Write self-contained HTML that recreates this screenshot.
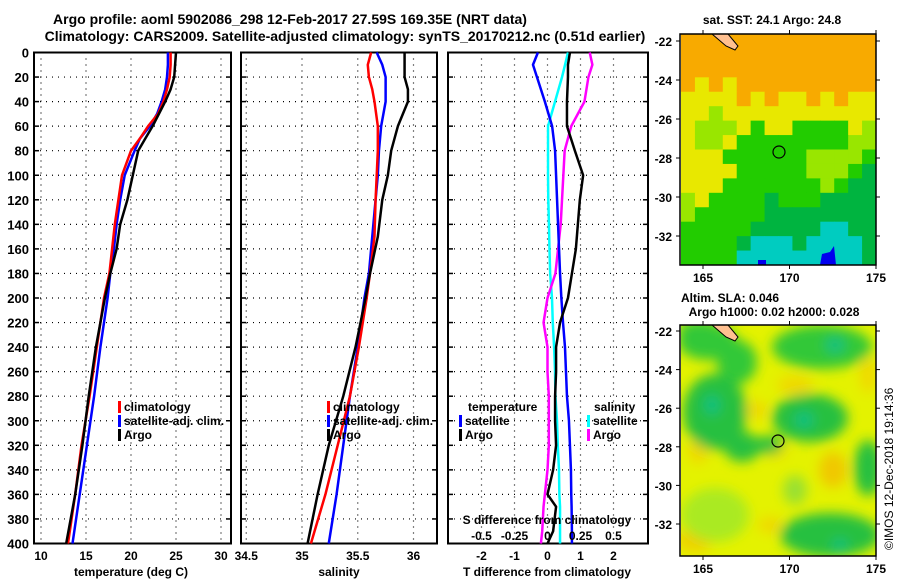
<!DOCTYPE html>
<html><head><meta charset="utf-8">
<style>
body{margin:0;background:#fff;}
svg{display:block;font-family:"Liberation Sans",sans-serif;font-weight:bold;}
</style></head>
<body>
<svg id="c" width="900" height="580" viewBox="0 0 900 580" xmlns="http://www.w3.org/2000/svg">
<defs>
<filter id="bl" x="-50%" y="-50%" width="200%" height="200%"><feGaussianBlur stdDeviation="6"/></filter>
<clipPath id="clipTop"><rect x="681" y="34" width="195" height="231"/></clipPath>
<clipPath id="clipBot"><rect x="681" y="325" width="195" height="231"/></clipPath>
</defs>
<text x="290" y="24" font-size="14" text-anchor="middle">Argo profile: aoml 5902086_298 12-Feb-2017 27.59S 169.35E (NRT data)</text>
<text x="345" y="41" font-size="14" text-anchor="middle">Climatology: CARS2009. Satellite-adjusted climatology: synTS_20170212.nc (0.51d earlier)</text>
<g id="plots"></g>
<g id="maps"></g>
<text transform="translate(893,550) rotate(-90)" font-size="12" font-weight="normal">©IMOS 12-Dec-2018 19:14:36</text>
</svg>
<script>
// ---------- profile data ----------
const tDepth = [0,10,20,30,40,50,60,70,80,100,120,140,160,180,200,240,280,320,360,400];
const tClim  = [24.4,24.4,24.3,24.0,23.6,23.0,21.9,21.0,20.0,19.0,18.6,18.2,17.9,17.6,17.0,16.2,15.4,14.5,13.8,13.0];
const tSat   = [24.1,24.1,24.0,23.8,23.4,22.9,22.1,21.0,20.4,19.3,18.8,18.4,18.1,17.7,17.4,16.6,15.9,15.1,14.3,13.5];
const tArgo  = [25.0,24.9,24.8,24.4,23.8,23.1,22.4,21.6,20.8,20.2,19.6,18.8,18.4,17.7,17.1,16.1,15.3,14.6,13.8,12.8];
const sDepth = [0,10,20,30,40,60,80,100,120,150,180,200,240,280,320,360,400];
const sClim  = [35.62,35.59,35.60,35.63,35.65,35.68,35.68,35.67,35.66,35.65,35.61,35.58,35.51,35.43,35.32,35.21,35.08];
const sSat   = [35.67,35.72,35.75,35.75,35.75,35.71,35.69,35.68,35.66,35.63,35.60,35.56,35.50,35.43,35.37,35.31,35.24];
const sArgo  = [35.92,35.92,35.92,35.95,35.95,35.86,35.80,35.77,35.72,35.68,35.61,35.57,35.48,35.37,35.24,35.14,35.05];
const dDepth = [0,10,20,40,60,80,100,120,140,160,180,200,220,240,260,280,300,320,340,360,370,390,400];
const dTSat  = [-0.29,-0.44,-0.32,-0.08,0.14,0.23,0.26,0.29,0.32,0.35,0.38,0.42,0.47,0.53,0.56,0.59,0.65,0.68,0.71,0.72,0.73,0.74,0.74];
const dTArgo = [0.68,0.62,0.62,0.59,0.59,0.83,1.08,0.98,0.92,0.86,0.74,0.62,0.38,0.26,0.26,0.23,0.23,0.26,0.17,0.0,0.26,0.17,0.0];
const dSSat  = [0.155,0.133,0.110,0.057,0.004,0.004,0.004,0.006,0.011,0.015,0.02,0.034,0.04,0.05,0.057,0.06,0.072,0.078,0.087,0.09,0.095,0.095,0.095];
const dSArgo = [0.32,0.34,0.31,0.28,0.18,0.13,0.12,0.11,0.10,0.08,0.06,0.0,-0.03,0.0,0.0,0.01,0.01,0.01,0.0,-0.02,-0.03,-0.04,-0.05];
const depthTicks = [0,20,40,60,80,100,120,140,160,180,200,220,240,260,280,300,320,340,360,380,400];
const tTicks = [10,15,20,25,30];
const sTicks = [34.5,35,35.5,36];
const dtTicks = [-2,-1,0,1,2];
const dsTicks = [-0.5,-0.25,0,0.25,0.5];
const latTicks = [-22,-24,-26,-28,-30,-32];
const lonTicks = [165,170,175];

const NS="http://www.w3.org/2000/svg";
const G=document.getElementById('plots');
const M=document.getElementById('maps');
function el(tag,attrs,parent){const e=document.createElementNS(NS,tag);for(const k in attrs)e.setAttribute(k,attrs[k]);(parent||G).appendChild(e);return e;}
function txt(x,y,s,anchor,size,parent){const t=el('text',{x:x,y:y,'font-size':size||12,'text-anchor':anchor||'middle'},parent);t.textContent=s;return t;}

const Y0=52.5, Y1=543.5;
const yD = d => Y0 + d*(Y1-Y0)/400;
const xT = v => 41 + (v-10)*9;
const xS = v => 302 + (v-35)*111.5;
const xDT = v => 547.5 + v*33;
const xDS = v => 547.5 + v*132;

function panel(x0,x1,name,gridX){
  const g=el('g',{});
  
  
  gridX.forEach(x=>{el('line',{x1:x,x2:x,y1:Y0,y2:Y1,stroke:'#000','stroke-width':1.2,'stroke-dasharray':'1 5'},g);});
  depthTicks.forEach(d=>{
    const y=yD(d);
    el('line',{x1:x0,x2:x1,y1:y,y2:y,stroke:'#000','stroke-width':1.2,'stroke-dasharray':'1 5'},g);
    el('line',{x1:x0,x2:x0+5,y1:y,y2:y,stroke:'#000','stroke-width':1.5},g);
    el('line',{x1:x1-5,x2:x1,y1:y,y2:y,stroke:'#000','stroke-width':1.5},g);
  });
  el('rect',{x:x0,y:Y0,width:x1-x0,height:Y1-Y0,fill:'none',stroke:'#000','stroke-width':2},g);
  return g;
}
function line(depths,vals,fx,color,name,parent){
  const p=el('polyline',{points:depths.map((d,i)=>fx(vals[i])+','+yD(d)).join(' '),fill:'none',stroke:color,'stroke-width':2.5,'stroke-linejoin':'round'},parent);
  
  
}
const dl=el('g',{});


depthTicks.forEach(d=>txt(29,yD(d)+5,String(d),'end',13,dl));

const p1=panel(34,231,'temperature-panel',tTicks.map(xT));
tTicks.forEach(v=>txt(xT(v),560,String(v),'middle',12,p1));
const t1=txt(131,576,'temperature (deg C)','middle',12,p1);

line(tDepth,tSat,xT,'#0000ff','temp-satellite-line',p1);
line(tDepth,tClim,xT,'#ff0000','temp-climatology-line',p1);
line(tDepth,tArgo,xT,'#000000','temp-argo-line',p1);

const p2=panel(241,437,'salinity-panel',sTicks.map(xS));
sTicks.forEach(v=>txt(xS(v),560,String(v),'middle',12,p2));
const t2=txt(339,576,'salinity','middle',12,p2);

line(sDepth,sSat,xS,'#0000ff','sal-satellite-line',p2);
line(sDepth,sClim,xS,'#ff0000','sal-climatology-line',p2);
line(sDepth,sArgo,xS,'#000000','sal-argo-line',p2);

const p3=panel(448,648,'difference-panel',dtTicks.map(xDT));
dtTicks.forEach(v=>txt(xDT(v),560,String(v),'middle',12,p3));
const t3=txt(547,576,'T difference from climatology','middle',12,p3);

line(dDepth,dSSat,xDS,'#00ffff','s-diff-satellite-line',p3);
line(dDepth,dSArgo,xDS,'#ff00ff','s-diff-argo-line',p3);
line(dDepth,dTSat,xDT,'#0000ff','t-diff-satellite-line',p3);
line(dDepth,dTArgo,xDT,'#000000','t-diff-argo-line',p3);
const st=txt(547,524,'S difference from climatology','middle',12,p3);

dsTicks.forEach(v=>txt(xDS(v),540,String(v),'middle',12,p3));

function legend(x,y,items,name){
  const g=el('g',{});
  
  
  items.forEach((it,i)=>{
    const yy=y+i*14;
    if(it[1]) el('rect',{x:x,y:yy-10,width:3,height:12,fill:it[1]},g);
    txt(x+(it[1]?6:0),yy,it[0],'start',12,g);
  });
}
legend(118,411,[['climatology','#ff0000'],['satellite-adj. clim.','#0000ff'],['Argo','#000000']],'temperature-legend');
legend(327,411,[['climatology','#ff0000'],['satellite-adj. clim.','#0000ff'],['Argo','#000000']],'salinity-legend');
legend(468,411,[['temperature',null]],'diff-legend-temperature-title');
legend(459,425,[['satellite','#0000ff'],['Argo','#000000']],'diff-legend-temperature');
legend(594,411,[['salinity',null]],'diff-legend-salinity-title');
legend(587,425,[['satellite','#00ffff'],['Argo','#ff00ff']],'diff-legend-salinity');

// ---------- maps ----------
const topGrid=[
"OOOOOOOOOOOOOO",
"OOOOOOOOOOOOOO",
"OOOOOOOOOOOOOO",
"OYOYOOOOOOOOOO",
"YYYYOYOYYOYOYY",
"YYLYYYYYYYYYYY",
"YLLLYGYYGGGGYL",
"YLLYGGGGGGGGLL",
"YYYGGGGGGLLLLG",
"YYYYGGGGGLLLGD",
"YYYGGGGGGGLGDD",
"LYGGGGDGGGDDDD",
"LGGGGGDDDDDDDD",
"GGGGGDDDDDCCDD",
"GGGGDCCCDCCCCD",
"GGGGCCCCCCCCCD"];
const pal={O:'#f8aa00',Y:'#e8e800',L:'#99e600',G:'#22cc00',D:'#00b440',C:'#00ccc0',B:'#0000ee'};
const mt=el('g',{'clip-path':'url(#clipTop)'},M);


const cw=195/14, ch=231/16;
topGrid.forEach((row,r)=>{[...row].forEach((c,k)=>{el('rect',{x:681+k*cw,y:34+r*ch,width:cw+0.5,height:ch+0.5,fill:pal[c]},mt);});});
el('path',{d:'M820 265 L822 254 L830 252 L834 246 L836 265 Z',fill:'#0000ee'},mt);
el('rect',{x:758,y:260,width:8,height:5,fill:'#0000ee'},mt);
el('path',{d:'M712 34 L728 34 L738 46 L735 50 L726 46 Z',fill:'#ffc090',stroke:'#000','stroke-width':1},mt);
el('circle',{cx:779,cy:152,r:6,fill:'none',stroke:'#000','stroke-width':1.2},mt);

const mb=el('g',{'clip-path':'url(#clipBot)'},M);


el('rect',{x:681,y:325,width:195,height:231,fill:'#e4f200'},mb);
const bf=el('g',{filter:'url(#bl)'},mb);
[['#f0d800',698,450,10,14],['#f0c800',833,470,14,18],['#f0d800',757,410,10,9],['#f0d800',775,450,12,8],['#f0d000',695,540,18,12],['#f0d800',795,385,18,9],['#f0d800',868,375,8,18],['#f0d800',770,525,12,8],
 ['#aaea20',715,515,34,27],['#30c838',708,342,30,18],['#30c838',737,362,20,22],['#30c838',822,347,50,22],['#28c040',715,412,32,38],['#28c040',742,447,18,15],['#28c040',768,445,15,9],['#28c040',810,418,38,24],['#28c040',868,468,14,28],['#28c040',830,535,50,22],['#99e030',795,490,12,15],['#30c838',700,332,22,12],
 ['#10c080',712,405,8,10],['#10c080',804,420,10,8],['#10c080',840,545,8,6],['#10c080',835,345,10,8]].forEach(b=>{
  el('ellipse',{cx:b[1],cy:b[2],rx:b[3],ry:b[4],fill:b[0]},bf);
});
el('path',{d:'M712 325 L728 325 L738 337 L735 341 L726 337 Z',fill:'#ffc090',stroke:'#000','stroke-width':1},mb);
el('circle',{cx:778,cy:441,r:6,fill:'none',stroke:'#000','stroke-width':1.2},mb);

function mapAxes(y0,y1,latScale,lat0,name){
  const g=el('g',{},M);
  
  
  el('rect',{x:680,y:y0,width:196,height:y1-y0,fill:'none',stroke:'#000','stroke-width':1.5},g);
  latTicks.forEach(v=>{
    const y=lat0+(-22-v)*latScale;
    el('line',{x1:680,x2:676,y1:y,y2:y,stroke:'#000'},g);
    el('line',{x1:876,x2:880,y1:y,y2:y,stroke:'#000'},g);
    txt(672,y+5,String(v),'end',12,g);
  });
  lonTicks.forEach(v=>{
    const x=703+(v-165)*17.3;
    el('line',{x1:x,x2:x,y1:y1,y2:y1+4,stroke:'#000'},g);
    el('line',{x1:x,x2:x,y1:y0,y2:y0-4,stroke:'#000'},g);
    txt(x,y1+17,String(v),'middle',12,g);
  });
}
mapAxes(34,265,19.5,41,'sst-map-axes');
mapAxes(325,556,19.3,331,'sla-map-axes');
const mt1=txt(772,24,'sat. SST: 24.1 Argo: 24.8','middle',12,M);

const mt2=txt(730,302,'Altim. SLA: 0.046','middle',12,M);

const mt3=txt(774,316,'Argo h1000: 0.02 h2000: 0.028','middle',12,M);

</script>
</body></html>
